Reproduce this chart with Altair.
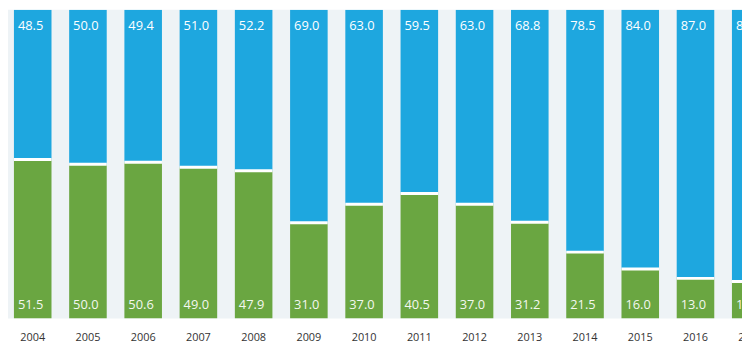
import altair as alt
import pandas as pd

years = ["2004", "2005", "2006", "2007", "2008", "2009", "2010", "2011",
         "2012", "2013", "2014", "2015", "2016", "2017"]
blue = [48.5, 50.0, 49.4, 51.0, 52.2, 69.0, 63.0, 59.5, 63.0, 68.8, 78.5, 84.0, 87.0, 88.0]
green = [51.5, 50.0, 50.6, 49.0, 47.9, 31.0, 37.0, 40.5, 37.0, 31.2, 21.5, 16.0, 13.0, 12.0]

df = pd.DataFrame({"year": years, "blue": blue, "green": green})
df["top"] = df["green"] + df["blue"]

BLUE = "#1ea7df"
GREEN = "#6aa641"
BG = "#eef3f6"
FONT = "Open Sans"

xscale = alt.Scale(range=[6, 769.8], paddingInner=0.32, paddingOuter=0)
xaxis = alt.Axis(title=None, labelAngle=0, ticks=False, tickSize=0, domain=False,
                 labelFont=FONT, labelFontSize=11, labelColor="#333333",
                 labelPadding=22, labelBaseline="alphabetic")
yscale = alt.Scale(domain=[0, 100], clamp=True)
yaxis = None

base = alt.Chart(df)
x = alt.X("year:N", sort=None, scale=xscale, axis=xaxis)

green_bar = base.mark_bar(color=GREEN, clip=True).encode(
    x=x,
    y=alt.Y("green:Q", scale=yscale, axis=yaxis),
    y2=alt.datum(0),
)
blue_bar = base.mark_bar(color=BLUE, clip=True).encode(
    x=x,
    y=alt.Y("green:Q", scale=yscale, axis=yaxis),
    y2="top:Q",
)
sep = base.mark_tick(color="white", thickness=3, size=38, opacity=1, clip=True).encode(
    x=x,
    y=alt.Y("green:Q", scale=yscale, axis=yaxis),
)
xl = alt.X("year:N", sort=None, bandPosition=0, scale=xscale, axis=xaxis)
top_text = base.mark_text(color="white", font=FONT, fontSize=13, align="left",
                          baseline="alphabetic", dx=4, clip=True).encode(
    x=xl,
    y=alt.value(20),
    text=alt.Text("blue:Q", format=".1f"),
)
bot_text = base.mark_text(color="white", font=FONT, fontSize=13, align="left",
                          baseline="alphabetic", dx=4, clip=True, opacity=0.92).encode(
    x=xl,
    y=alt.value(302),
    text=alt.Text("green:Q", format=".1f"),
)

chart = alt.layer(green_bar, blue_bar, sep, top_text, bot_text).properties(
    width=742,
    height=312,
    background="white",
    autosize=alt.AutoSizeParams(type="none"),
    padding={"left": 0, "top": 0, "right": 0, "bottom": 31},
).configure_view(fill=BG, strokeWidth=0)

chart.save("out.html", embed_options={"renderer": "svg", "actions": False})
